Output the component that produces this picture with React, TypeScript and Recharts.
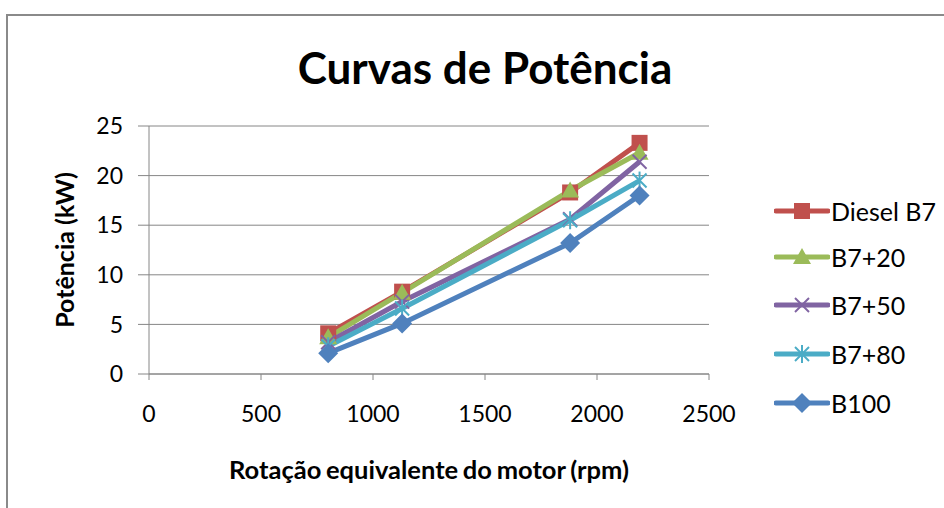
import React from 'react';
import { LineChart, Line, XAxis, YAxis, CartesianGrid, Label } from 'recharts';

const rpm = [800, 1130, 1880, 2190];
const dieselB7 = [4.1, 8.3, 18.3, 23.3];
const b7p20 = [3.7, 8.2, 18.5, 22.3];
const b7p50 = [3.2, 7.3, 15.6, 21.4];
const b7p80 = [2.8, 6.6, 15.5, 19.5];
const b100 = [2.1, 5.1, 13.2, 18.0];
const xTicks = [0, 500, 1000, 1500, 2000, 2500];
const yTicks = [0, 5, 10, 15, 20, 25];

const seriesNames = ['Diesel B7', 'B7+20', 'B7+50', 'B7+80', 'B100'];
const seriesValues = [dieselB7, b7p20, b7p50, b7p80, b100];
const seriesColors = ['#C0504D', '#9BBB59', '#8064A2', '#4BACC6', '#4F81BD'];
const seriesShapes = ['square', 'triangle', 'x', 'star', 'diamond'];

const data = rpm.map((r, i) => {
  const row: any = { rpm: r };
  seriesValues.forEach((vals, s) => {
    row['s' + s] = vals[i];
  });
  return row;
});

const FONT = 'Lato, "Open Sans", sans-serif';
const GRID = '#868686';

function Marker({ cx, cy, shape, color }: any) {
  if (cx == null || cy == null) return null;
  switch (shape) {
    case 'square':
      return <rect x={cx - 8} y={cy - 8} width={16} height={16} fill={color} />;
    case 'triangle':
      return (
        <polygon
          points={`${cx},${cy - 9} ${cx + 9},${cy + 7} ${cx - 9},${cy + 7}`}
          fill={color}
        />
      );
    case 'x':
      return (
        <g stroke={color} strokeWidth={2}>
          <line x1={cx - 7} y1={cy - 7} x2={cx + 7} y2={cy + 7} />
          <line x1={cx - 7} y1={cy + 7} x2={cx + 7} y2={cy - 7} />
        </g>
      );
    case 'star':
      return (
        <g stroke={color} strokeWidth={2}>
          <line x1={cx - 7} y1={cy - 7} x2={cx + 7} y2={cy + 7} />
          <line x1={cx - 7} y1={cy + 7} x2={cx + 7} y2={cy - 7} />
          <line x1={cx} y1={cy - 9} x2={cx} y2={cy + 9} />
        </g>
      );
    case 'diamond':
    default:
      return (
        <polygon
          points={`${cx},${cy - 10} ${cx + 10},${cy} ${cx},${cy + 10} ${cx - 10},${cy}`}
          fill={color}
        />
      );
  }
}

const legendTops = [211, 257, 305, 354, 403];

export default function App() {
  return (
    <div style={{ position: 'absolute', left: 0, top: 0, width: 944, height: 508, background: '#fff', overflow: 'hidden', fontFamily: FONT }}>
      <div style={{ position: 'absolute', left: 6, top: 14, width: 960, height: 520, border: '2px solid #8a8a8a', boxSizing: 'border-box' }} />
      <div style={{ position: 'absolute', left: 0, width: 970, top: 40, textAlign: 'center', fontSize: 44, fontWeight: 700, color: '#000', lineHeight: '54px' }}>
        Curvas de Potência
      </div>
      <div style={{ position: 'absolute', left: 0, top: 0 }}>
        <LineChart width={944} height={508} data={data} margin={{ top: 126, right: 235, bottom: 24, left: 0 }}>
          <CartesianGrid vertical={false} stroke={GRID} strokeWidth={1} />
          <XAxis
            type="number"
            dataKey="rpm"
            domain={[0, 2500]}
            ticks={xTicks}
            interval={0}
            height={110}
            tickSize={6}
            tickMargin={26}
            stroke={GRID}
            tick={{ fill: '#000', fontSize: 23, fontFamily: FONT }}
          >
            <Label
              content={({ viewBox }: any) => (
                <text
                  x={viewBox.x + viewBox.width / 2}
                  y={469}
                  textAnchor="middle"
                  dominantBaseline="central"
                  fontFamily={FONT}
                  fontSize={25.5}
                  fontWeight={700}
                  wordSpacing={-1.5}
                  fill="#000"
                >
                  Rotação equivalente do motor (rpm)
                </text>
              )}
            />
          </XAxis>
          <YAxis
            type="number"
            domain={[0, 25]}
            ticks={yTicks}
            interval={0}
            width={149}
            tickSize={11}
            tickMargin={15}
            stroke={GRID}
            tick={{ fill: '#000', fontSize: 23, fontFamily: FONT }}
          >
            <Label
              content={({ viewBox }: any) => (
                <text
                  x={64}
                  y={viewBox.y + viewBox.height / 2}
                  textAnchor="middle"
                  dominantBaseline="central"
                  transform={`rotate(-90, 64, ${viewBox.y + viewBox.height / 2})`}
                  fontFamily={FONT}
                  fontSize={25}
                  fontWeight={700}
                  fill="#000"
                >
                  Potência (kW)
                </text>
              )}
            />
          </YAxis>
          {seriesNames.map((name, s) => (
            <Line
              key={name}
              type="linear"
              dataKey={'s' + s}
              name={name}
              stroke={seriesColors[s]}
              strokeWidth={5}
              isAnimationActive={false}
              activeDot={false}
              dot={(p: any) => (
                <Marker key={`${s}-${p.index}`} cx={p.cx} cy={p.cy} shape={seriesShapes[s]} color={seriesColors[s]} />
              )}
            />
          ))}
        </LineChart>
      </div>
      {seriesNames.map((name, s) => (
        <div
          key={name}
          style={{ position: 'absolute', left: 774, top: legendTops[s] - 15, height: 30, display: 'flex', alignItems: 'center' }}
        >
          <svg width={56} height={30} style={{ display: 'block' }}>
            <line x1={2} y1={15} x2={54} y2={15} stroke={seriesColors[s]} strokeWidth={5} strokeLinecap="round" />
            <Marker cx={28} cy={15} shape={seriesShapes[s]} color={seriesColors[s]} />
          </svg>
          <span style={{ fontSize: 25, color: '#000', marginLeft: 1, whiteSpace: 'nowrap' }}>{name}</span>
        </div>
      ))}
    </div>
  );
}
